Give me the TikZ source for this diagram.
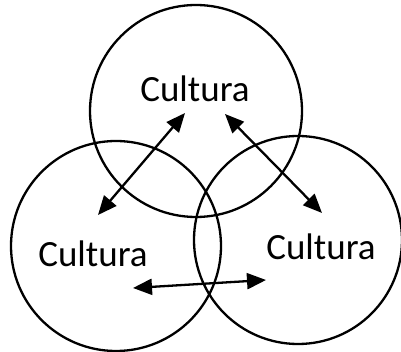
\documentclass[tikz,border=0pt]{standalone}
\usepackage{fontspec}
\setmainfont{Carlito}
\usetikzlibrary{arrows.meta}

\begin{document}
\begin{tikzpicture}[x=1pt,y=-1pt,line width=2.3pt,
    ring/.style={draw,circle,inner sep=0pt},
    label/.style={anchor=base,font=\fontsize{37}{44}\selectfont},
    tip/.tip={Triangle[length=19pt,width=16pt]},
    link/.style={tip-tip}]
  \useasboundingbox (0,0) rectangle (401,352);
  % circles
  \node[ring,minimum size=212pt] (top)   at (196,111) {};
  \node[ring,minimum size=210pt] (left)  at (116,246) {};
  \node[ring,minimum size=208pt] (right) at (298,240) {};
  % texts
  \node[label] (ctop)   at (195,102) {Cultura};
  \node[label] (cleft)  at (93,267)  {Cultura};
  \node[label] (cright) at (321,260) {Cultura};
  % arrow ends
  \coordinate (tl) at (185,113);
  \coordinate (tr) at (225,114);
  \coordinate (lu) at (98,215);
  \coordinate (ru) at (322,213);
  \coordinate (lb) at (133,288);
  \coordinate (rb) at (266,280);
  % arrows
  \draw[link] (lu) -- (tl);
  \draw[link] (tr) -- (ru);
  \draw[link] (lb) -- (rb);
\end{tikzpicture}
\end{document}
